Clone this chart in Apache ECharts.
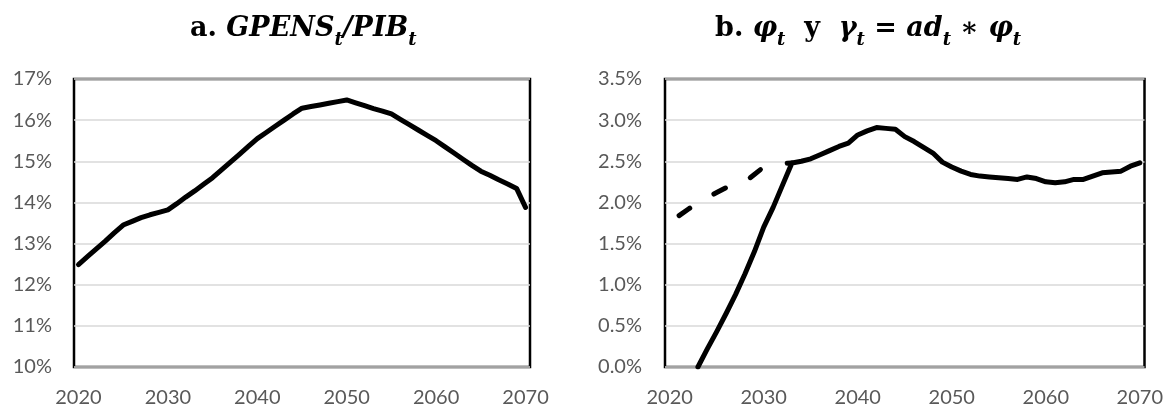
<!DOCTYPE html>
<html>
<head>
<meta charset="utf-8">
<script src="https://cdn.jsdelivr.net/npm/echarts@6/dist/echarts.min.js"></script>
<style>html,body{margin:0;padding:0;background:#fff;}#c{width:1166px;height:408px;}</style>
</head>
<body>
<div id="c"></div>
<script>
const years = ['2020','2021','2022','2023','2024','2025','2026','2027','2028','2029',
  '2030','2031','2032','2033','2034','2035','2036','2037','2038','2039',
  '2040','2041','2042','2043','2044','2045','2046','2047','2048','2049',
  '2050','2051','2052','2053','2054','2055','2056','2057','2058','2059',
  '2060','2061','2062','2063','2064','2065','2066','2067','2068','2069','2070'];

// a. GPENS_t / PIB_t (%)
const gpensPib = [12.49,12.68,12.87,13.06,13.26,13.45,13.54,13.63,13.70,13.76,
  13.82,13.97,14.13,14.28,14.44,14.60,14.79,14.98,15.17,15.36,
  15.55,15.70,15.85,16.00,16.15,16.29,16.33,16.37,16.41,16.45,
  16.49,16.42,16.35,16.28,16.22,16.15,16.02,15.89,15.76,15.63,
  15.50,15.35,15.20,15.05,14.90,14.76,14.66,14.55,14.45,14.34,13.88];

// b. phi_t (%), solid
const phi = [null,null,null,0.00,0.22,0.43,0.65,0.88,1.13,1.40,
  1.70,1.94,2.21,2.48,2.50,2.53,2.58,2.63,2.68,2.72,
  2.82,2.87,2.91,2.90,2.89,2.80,2.74,2.67,2.60,2.49,
  2.43,2.38,2.34,2.32,2.31,2.30,2.29,2.28,2.31,2.29,
  2.25,2.24,2.25,2.28,2.28,2.32,2.36,2.37,2.38,2.44,2.48];

// b. gamma_t = ad_t * phi_t (%), dashed
const gamma = [null,1.84,1.92,2.00,2.06,2.12,2.18,2.18,2.25,2.34,
  2.43,2.45,2.47,2.48];

const leftTicks = {min:10, max:17, interval:1};
const rightTicks = {min:0, max:3.5, interval:0.5};

const labelFont = 'Lato';
const grey = '#595959';
const serif = 'DejaVu Serif';

function xAx(gi){
  return {type:'category', gridIndex:gi, data:years, boundaryGap:true,
    axisLine:{show:false}, axisTick:{show:false},
    axisLabel:{interval:9, color:grey, fontFamily:labelFont, fontSize:20, lineHeight:20, margin:21}};
}
function yAx(gi, t, fmt, margin){
  return {type:'value', gridIndex:gi, min:t.min, max:t.max, interval:t.interval,
    axisLine:{show:false}, axisTick:{show:false},
    splitLine:{lineStyle:{color:'#d9d9d9', width:1.5}},
    axisLabel:{color:grey, fontFamily:labelFont, fontSize:20, margin:margin, formatter:fmt}};
}
const richStyles = {
  b:{fontFamily:serif, fontWeight:'bold', fontSize:27, lineHeight:27, verticalAlign:'top', color:'#000'},
  m:{fontFamily:serif, fontWeight:'bold', fontStyle:'italic', fontSize:27, lineHeight:27, verticalAlign:'top', color:'#000'},
  s:{fontFamily:serif, fontWeight:'bold', fontStyle:'italic', fontSize:18, lineHeight:34, verticalAlign:'bottom', color:'#000'},
  r:{fontFamily:serif, fontSize:27, lineHeight:27, verticalAlign:'top', color:'#000'}
};
const lineStyleBase = {color:'#000', width:5, cap:'round', join:'round'};

const chart = echarts.init(document.getElementById('c'), null, {renderer:'canvas'});
chart.setOption({
  animation:false,
  backgroundColor:'#fff',
  title:[
    {left:185, top:10, text:'{b|a. }{m|GPENS}{s|t}{m|/PIB}{s|t}', textStyle:{rich:richStyles}},
    {left:710, top:10, text:'{b|b. }{m|φ}{s|t}{b|  y  }{m|γ}{s|t}{r| = }{m|ad}{s|t}{r| ∗ }{m|φ}{s|t}', textStyle:{rich:richStyles}}
  ],
  grid:[
    {left:74, right:636, top:79, bottom:39, show:true, borderColor:'#000', borderWidth:2.5, backgroundColor:'transparent'},
    {left:665, right:21, top:79, bottom:39, show:true, borderColor:'#000', borderWidth:2.5, backgroundColor:'transparent'}
  ],
  xAxis:[xAx(0), xAx(1)],
  yAxis:[
    yAx(0, leftTicks, v => v + '%', 22),
    yAx(1, rightTicks, v => v.toFixed(1) + '%', 23)
  ],
  series:[
    {type:'line', xAxisIndex:0, yAxisIndex:0, data:gpensPib, symbol:'none', lineStyle:lineStyleBase},
    {type:'line', xAxisIndex:1, yAxisIndex:1, data:gamma, symbol:'none', lineStyle:Object.assign({}, lineStyleBase, {type:[13,28]})},
    {type:'line', xAxisIndex:1, yAxisIndex:1, data:phi, symbol:'none', lineStyle:lineStyleBase}
  ]
});
</script>
</body>
</html>
